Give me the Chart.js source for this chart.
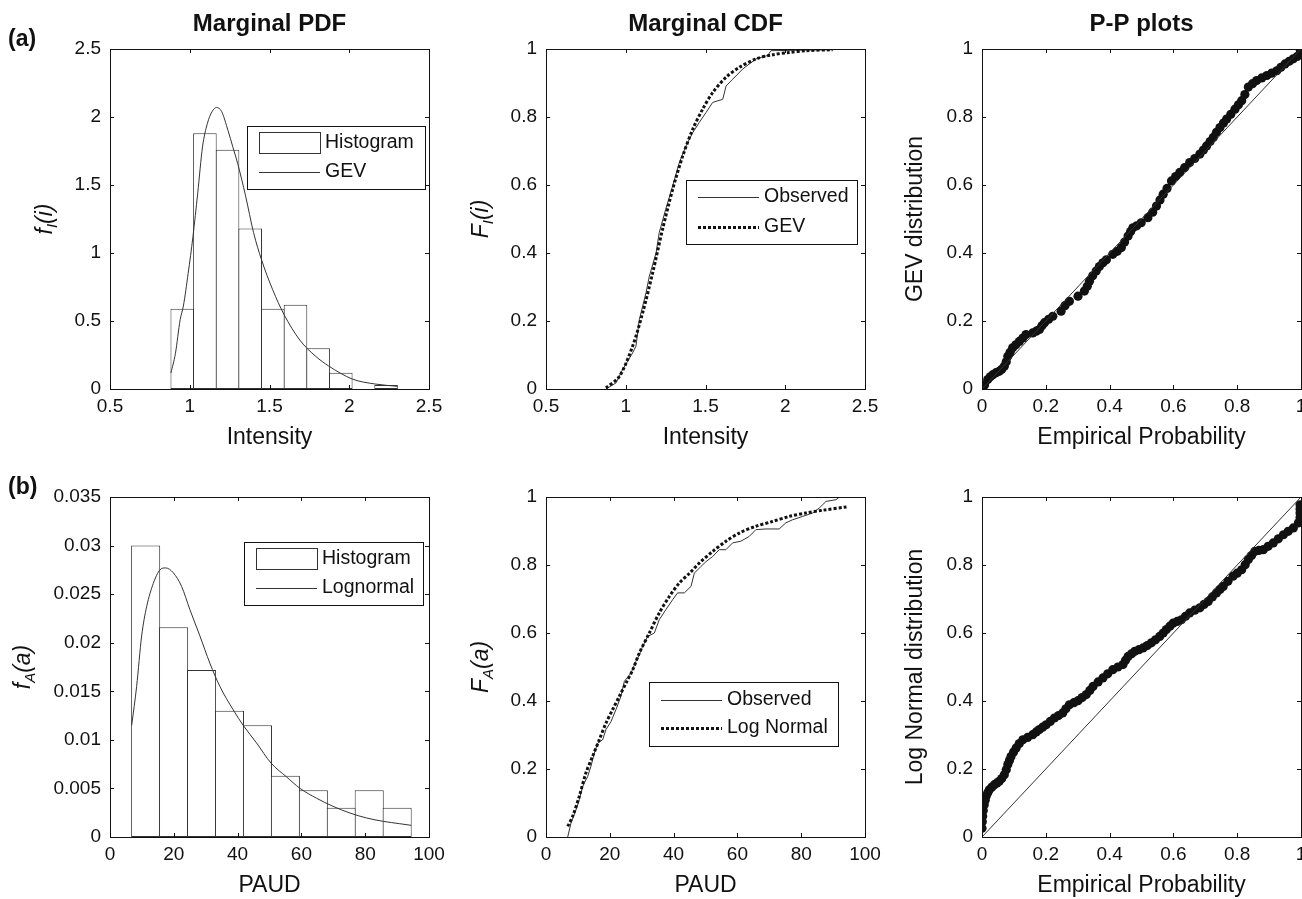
<!DOCTYPE html>
<html>
<head>
<meta charset="utf-8">
<script src="https://cdn.jsdelivr.net/npm/chart.js@4.4.1/dist/chart.umd.min.js"></script>
<style>
  html, body { margin: 0; padding: 0; background: #fff; width: 1302px; height: 899px; overflow: hidden; }
  body { position: relative; }
  canvas { position: absolute; }
</style>
</head>
<body>
<canvas id="c1" width="459" height="451" style="left:0px;top:0px"></canvas>
<canvas id="c2" width="459" height="451" style="left:436px;top:0px"></canvas>
<canvas id="c3" width="459" height="451" style="left:872px;top:0px"></canvas>
<canvas id="c4" width="459" height="451" style="left:0px;top:448px"></canvas>
<canvas id="c5" width="459" height="451" style="left:436px;top:448px"></canvas>
<canvas id="c6" width="459" height="451" style="left:872px;top:448px"></canvas>
<script>
// ---- (a) intensity ----
const intensityTicks = [0.5, 1, 1.5, 2, 2.5];
const intensityTickLabels = ['0.5', '1', '1.5', '2', '2.5'];
const pdfITicks = [0, 0.5, 1, 1.5, 2, 2.5];
const pdfITickLabels = ['0', '0.5', '1', '1.5', '2', '2.5'];
const probTicks = [0, 0.2, 0.4, 0.6, 0.8, 1];
const probTickLabels = ['0', '0.2', '0.4', '0.6', '0.8', '1'];

const histIBins = [0.953, 1.095, 1.237, 1.379, 1.521, 1.663, 1.805, 1.947, 2.089, 2.231];
const histIHeights = [0.59, 1.88, 1.76, 1.18, 0.59, 0.62, 0.30, 0.12, 0, 0.03];

const gevPdfX = [0.882, 0.91, 0.94, 0.96, 0.99, 1.02, 1.05, 1.08, 1.11, 1.14, 1.168, 1.20, 1.24, 1.27, 1.30, 1.35, 1.40, 1.45, 1.52, 1.59, 1.69, 1.79, 1.87, 2.02, 2.16, 2.30];
const gevPdfY = [0.118, 0.26, 0.51, 0.61, 0.85, 1.12, 1.44, 1.78, 1.95, 2.04, 2.07, 2.04, 1.90, 1.78, 1.66, 1.42, 1.15, 0.95, 0.73, 0.55, 0.36, 0.24, 0.17, 0.073, 0.037, 0.02];

const obsCdfIX = [0.876, 0.939, 0.98, 1.043, 1.064, 1.085, 1.127, 1.148, 1.19, 1.21, 1.25, 1.294, 1.336, 1.378, 1.42, 1.461, 1.503, 1.545, 1.608, 1.629, 1.67, 1.733, 1.817, 1.89, 1.91, 2.297];
const obsCdfIY = [0, 0.018, 0.057, 0.106, 0.126, 0.204, 0.283, 0.332, 0.40, 0.46, 0.528, 0.597, 0.666, 0.715, 0.754, 0.784, 0.813, 0.843, 0.852, 0.891, 0.911, 0.941, 0.971, 0.981, 0.995, 0.998];
const gevCdfX = [0.876, 0.96, 1.043, 1.106, 1.169, 1.231, 1.294, 1.357, 1.42, 1.482, 1.545, 1.629, 1.712, 1.817, 1.921, 2.026, 2.13, 2.297];
const gevCdfY = [0.003, 0.037, 0.126, 0.224, 0.342, 0.47, 0.587, 0.685, 0.764, 0.823, 0.872, 0.917, 0.946, 0.971, 0.983, 0.99, 0.995, 0.998];

const ppGevEmp = [0.002, 0.008, 0.018, 0.026, 0.034, 0.044, 0.054, 0.062, 0.07, 0.076, 0.081, 0.088, 0.096, 0.106, 0.117, 0.128, 0.138, 0.159, 0.17, 0.18, 0.188, 0.196, 0.209, 0.222, 0.248, 0.26, 0.274, 0.301, 0.321, 0.33, 0.337, 0.347, 0.358, 0.368, 0.379, 0.39, 0.41, 0.424, 0.437, 0.447, 0.458, 0.466, 0.473, 0.485, 0.499, 0.52, 0.535, 0.547, 0.558, 0.568, 0.58, 0.594, 0.607, 0.62, 0.635, 0.651, 0.667, 0.683, 0.694, 0.704, 0.715, 0.725, 0.735, 0.746, 0.757, 0.767, 0.78, 0.793, 0.804, 0.814, 0.824, 0.835, 0.848, 0.861, 0.877, 0.893, 0.908, 0.924, 0.937, 0.95, 0.963, 0.976, 0.988, 0.997, 0.997];
const ppGevFit = [0.003, 0.012, 0.028, 0.036, 0.042, 0.048, 0.052, 0.058, 0.067, 0.08, 0.096, 0.108, 0.121, 0.13, 0.14, 0.15, 0.16, 0.165, 0.17, 0.175, 0.186, 0.195, 0.205, 0.214, 0.229, 0.245, 0.258, 0.273, 0.288, 0.302, 0.317, 0.333, 0.347, 0.36, 0.371, 0.38, 0.396, 0.405, 0.416, 0.432, 0.45, 0.463, 0.474, 0.48, 0.489, 0.504, 0.52, 0.538, 0.556, 0.573, 0.59, 0.612, 0.625, 0.637, 0.651, 0.666, 0.678, 0.691, 0.703, 0.715, 0.728, 0.74, 0.755, 0.769, 0.782, 0.794, 0.808, 0.823, 0.836, 0.848, 0.866, 0.888, 0.898, 0.907, 0.915, 0.922, 0.929, 0.936, 0.946, 0.956, 0.964, 0.971, 0.978, 0.986, 1.0];

// ---- (b) PAUD ----
const paudTicks = [0, 20, 40, 60, 80, 100];
const paudTickLabels = ['0', '20', '40', '60', '80', '100'];
const pdfATicks = [0, 0.005, 0.01, 0.015, 0.02, 0.025, 0.03, 0.035];
const pdfATickLabels = ['0', '0.005', '0.01', '0.015', '0.02', '0.025', '0.03', '0.035'];

const histABins = [11.18, 19.94, 28.70, 37.46, 46.22, 54.98, 63.74, 72.50, 81.26, 90.02];
const histAHeights = [0.0300, 0.0216, 0.0172, 0.0130, 0.0115, 0.0063, 0.0048, 0.0030, 0.0048, 0.0030];

const lognPdfX = [6.8, 8.35, 9.92, 11.48, 13.57, 15.66, 17.4, 19.83, 22.44, 25.05, 28.18, 31.3, 34.45, 38.6, 41.96, 45.9, 50.5, 55.3, 59.6, 64.7, 69.9, 75.2, 80.4, 85.7, 90.8, 94.4];
const lognPdfY = [0.0115, 0.0155, 0.0207, 0.0237, 0.0261, 0.0275, 0.0277, 0.0272, 0.0258, 0.0234, 0.0207, 0.0179, 0.0155, 0.0131, 0.0114, 0.0097, 0.0076, 0.0062, 0.0050, 0.0040, 0.00316, 0.00247, 0.00196, 0.00161, 0.00137, 0.0012];

const obsCdfAX = [6.8, 7.84, 9.4, 10.45, 11.5, 13.06, 14.1, 15.15, 16.2, 17.76, 18.8, 20.4, 21.94, 23.5, 24.56, 26.65, 28.2, 29.26, 30.3, 31.87, 33.96, 35.5, 37.6, 39.7, 41.27, 43.36, 45.45, 46.5, 48.6, 50.16, 52.25, 54.3, 56.4, 58.5, 61.1, 63.7, 65.8, 69, 73.1, 75.2, 77.3, 80.5, 83.6, 85.7, 87.8, 90.9, 92, 94.3];
const obsCdfAY = [0, 0.041, 0.08, 0.11, 0.149, 0.178, 0.208, 0.247, 0.276, 0.286, 0.316, 0.34, 0.375, 0.414, 0.458, 0.482, 0.517, 0.536, 0.561, 0.59, 0.6, 0.639, 0.669, 0.698, 0.718, 0.718, 0.737, 0.776, 0.796, 0.81, 0.825, 0.845, 0.845, 0.865, 0.87, 0.884, 0.904, 0.906, 0.906, 0.924, 0.933, 0.943, 0.953, 0.968, 0.987, 0.992, 1.0, 1.0];
const lognCdfX = [6.8, 8.36, 10.45, 12.5, 14.6, 16.7, 18.8, 20.9, 23, 25.1, 27.2, 29.26, 32.4, 35.5, 38.7, 41.8, 45, 48.1, 52.25, 56.4, 60.6, 65.8, 71, 76.3, 81.5, 86.7, 94.3];
const lognCdfY = [0.031, 0.061, 0.12, 0.188, 0.237, 0.286, 0.335, 0.375, 0.414, 0.453, 0.492, 0.541, 0.6, 0.659, 0.708, 0.747, 0.776, 0.806, 0.84, 0.87, 0.894, 0.914, 0.928, 0.943, 0.953, 0.961, 0.971];

const ppLnEmp = [0.0, 0.001, 0.002, 0.004, 0.007, 0.01, 0.013, 0.018, 0.023, 0.031, 0.039, 0.047, 0.054, 0.062, 0.07, 0.076, 0.081, 0.086, 0.091, 0.099, 0.107, 0.117, 0.128, 0.143, 0.159, 0.17, 0.18, 0.19, 0.201, 0.214, 0.227, 0.24, 0.253, 0.263, 0.274, 0.288, 0.301, 0.314, 0.327, 0.338, 0.348, 0.364, 0.379, 0.394, 0.41, 0.426, 0.442, 0.45, 0.458, 0.469, 0.479, 0.492, 0.505, 0.518, 0.531, 0.544, 0.557, 0.568, 0.578, 0.589, 0.599, 0.612, 0.625, 0.638, 0.651, 0.667, 0.683, 0.696, 0.709, 0.722, 0.735, 0.746, 0.756, 0.771, 0.787, 0.8, 0.814, 0.825, 0.835, 0.845, 0.855, 0.868, 0.882, 0.897, 0.913, 0.929, 0.945, 0.96, 0.976, 0.992, 0.997, 0.997, 0.997, 0.997];
const ppLnFit = [0.026, 0.045, 0.061, 0.078, 0.095, 0.108, 0.12, 0.13, 0.139, 0.147, 0.154, 0.159, 0.164, 0.172, 0.183, 0.198, 0.213, 0.225, 0.237, 0.25, 0.262, 0.275, 0.286, 0.293, 0.301, 0.309, 0.316, 0.323, 0.33, 0.34, 0.35, 0.357, 0.365, 0.377, 0.389, 0.395, 0.401, 0.41, 0.419, 0.431, 0.443, 0.456, 0.468, 0.48, 0.492, 0.5, 0.507, 0.52, 0.531, 0.539, 0.546, 0.551, 0.556, 0.563, 0.571, 0.58, 0.59, 0.6, 0.61, 0.62, 0.629, 0.634, 0.639, 0.649, 0.659, 0.667, 0.674, 0.684, 0.693, 0.706, 0.718, 0.728, 0.737, 0.752, 0.767, 0.776, 0.786, 0.801, 0.816, 0.828, 0.84, 0.843, 0.845, 0.855, 0.865, 0.877, 0.889, 0.899, 0.909, 0.924, 0.94, 0.953, 0.965, 0.977];

const diagX = [0, 1];
const diagY = [0, 1];

const FONT = '"Liberation Sans", Arial, Helvetica, sans-serif';
const INK = '#111';
Chart.defaults.font.family = FONT;
Chart.defaults.color = INK;

const pts = (xs, ys) => xs.map((x, i) => ({ x: x, y: ys[i] }));

// box with inward ticks on all four sides, like MATLAB axes
const matlabFrame = {
  id: 'matlabFrame',
  afterDatasetsDraw(chart) {
    const { ctx, chartArea: a, scales } = chart;
    ctx.save();
    ctx.strokeStyle = INK;
    ctx.lineWidth = 1;
    ctx.beginPath();
    scales.x.ticks.forEach(t => {
      const px = Math.round(scales.x.getPixelForValue(t.value)) + 0.5;
      ctx.moveTo(px, a.bottom); ctx.lineTo(px, a.bottom - 4);
      ctx.moveTo(px, a.top); ctx.lineTo(px, a.top + 4);
    });
    scales.y.ticks.forEach(t => {
      const py = Math.round(scales.y.getPixelForValue(t.value)) + 0.5;
      ctx.moveTo(a.left, py); ctx.lineTo(a.left + 4, py);
      ctx.moveTo(a.right, py); ctx.lineTo(a.right - 4, py);
    });
    ctx.stroke();
    ctx.strokeRect(a.left + 0.5, a.top + 0.5, a.right - a.left, a.bottom - a.top);
    ctx.restore();
  }
};

function boxLegend(box, rowY) {
  return {
    id: 'boxLegend',
    afterDraw(chart) {
      const { ctx, chartArea } = chart;
      const x = chartArea.left + box[0], y = chartArea.top + box[1];
      ctx.save();
      ctx.fillStyle = '#fff';
      ctx.fillRect(x, y, box[2], box[3]);
      ctx.strokeStyle = INK;
      ctx.lineWidth = 1;
      ctx.strokeRect(x + 0.5, y + 0.5, box[2], box[3]);
      ctx.font = '19.5px ' + FONT;
      ctx.textBaseline = 'middle';
      chart.data.datasets.forEach((ds, i) => {
        const ry = y + rowY[i];
        if (ds.type === 'bar') {
          ctx.strokeStyle = '#333';
          ctx.strokeRect(x + 12.5, ry - 10.5, 61, 21);
        } else {
          ctx.strokeStyle = ds.borderColor;
          ctx.lineWidth = ds.borderWidth;
          ctx.setLineDash(ds.borderDash || []);
          ctx.beginPath();
          ctx.moveTo(x + 12, Math.round(ry) + 0.5);
          ctx.lineTo(x + 73, Math.round(ry) + 0.5);
          ctx.stroke();
          ctx.setLineDash([]);
          ctx.lineWidth = 1;
        }
        ctx.fillStyle = INK;
        ctx.fillText(ds.label, x + 78, ry);
      });
      ctx.restore();
    }
  };
}

// italic y label with subscript, e.g. f_I(i)
function richYLabel(parts, cx) {
  return {
    id: 'richYLabel',
    afterDraw(chart) {
      const { ctx, chartArea } = chart;
      const cy = (chartArea.top + chartArea.bottom) / 2;
      const fonts = parts.map(p => p[1] ? 'italic 15px ' + FONT : 'italic 23px ' + FONT);
      ctx.save();
      let total = 0;
      const widths = parts.map((p, i) => { ctx.font = fonts[i]; const w = ctx.measureText(p[0]).width; total += w; return w; });
      ctx.translate(cx, cy);
      ctx.rotate(-Math.PI / 2);
      ctx.fillStyle = INK;
      ctx.textBaseline = 'alphabetic';
      let x = -total / 2;
      parts.forEach((p, i) => {
        ctx.font = fonts[i];
        ctx.fillText(p[0], x, p[1] ? 13 : 8);
        x += widths[i];
      });
      ctx.restore();
    }
  };
}

function panelTag(text) {
  return {
    id: 'panelTag',
    afterDraw(chart) {
      const ctx = chart.ctx;
      ctx.save();
      ctx.font = 'bold 23px ' + FONT;
      ctx.fillStyle = INK;
      ctx.textBaseline = 'middle';
      ctx.fillText(text, 8, 40);
      ctx.restore();
    }
  };
}

function axisOptions(c) {
  return {
    responsive: false,
    animation: false,
    layout: { padding: { top: c.title ? 0 : 49, right: 30, left: 0, bottom: 0 } },
    plugins: {
      legend: { display: false },
      tooltip: { enabled: false },
      title: c.title ? {
        display: true, text: c.title, fullSize: false, color: INK,
        font: { size: 24, weight: 'bold' }, padding: { top: 10, bottom: 10.2 }
      } : { display: false }
    },
    scales: {
      x: {
        type: 'linear', min: c.xTicks[0], max: c.xTicks[c.xTicks.length - 1], offset: false,
        grid: { display: false, drawTicks: false },
        border: { display: false },
        afterBuildTicks: s => { s.ticks = c.xTicks.map(v => ({ value: v })); },
        afterFit: s => { s.height = 62; },
        ticks: { padding: 6, autoSkip: false, maxRotation: 0, font: { size: 19 }, callback: (v, i) => c.xLabels[i] },
        title: { display: true, text: c.xTitle, font: { size: 23 }, padding: 0 }
      },
      y: {
        type: 'linear', min: c.yTicks[0], max: c.yTicks[c.yTicks.length - 1],
        grid: { display: false, drawTicks: false },
        border: { display: false },
        afterBuildTicks: s => { s.ticks = c.yTicks.map(v => ({ value: v })); },
        afterFit: s => { s.width = 110; },
        ticks: { padding: 9, autoSkip: false, font: { size: 19 }, callback: (v, i) => c.yLabels[i] },
        title: c.yTitle ? { display: true, text: c.yTitle, font: { size: 23 }, padding: { top: 30.2, bottom: 0 } } : { display: false }
      }
    }
  };
}

function histDataset(label, bins, heights) {
  return {
    type: 'bar', label: label, data: pts(bins, heights),
    backgroundColor: '#fff', borderColor: '#333', borderWidth: 1, borderSkipped: false,
    barPercentage: 1.04, categoryPercentage: 1, order: 2
  };
}

// style: 'smooth' fitted pdf, 'raw' empirical cdf, 'dotted' fitted cdf
function curveDataset(label, xs, ys, style) {
  const dotted = style === 'dotted';
  return {
    type: 'line', label: label, data: pts(xs, ys),
    borderColor: dotted ? '#111' : '#333',
    borderWidth: dotted ? 3 : 1,
    borderDash: dotted ? [3, 2] : [],
    pointRadius: 0, fill: false,
    cubicInterpolationMode: style === 'smooth' ? 'monotone' : 'default',
    tension: dotted ? 0.3 : 0, order: dotted ? 0 : 1
  };
}

// (a) Marginal PDF
new Chart(document.getElementById('c1'), {
  type: 'bar',
  data: { datasets: [
    histDataset('Histogram', histIBins, histIHeights),
    Object.assign(curveDataset('GEV', gevPdfX, gevPdfY, 'smooth'), { order: 0 })
  ] },
  options: axisOptions({ title: 'Marginal PDF', xTicks: intensityTicks, xLabels: intensityTickLabels, yTicks: pdfITicks, yLabels: pdfITickLabels, xTitle: 'Intensity' }),
  plugins: [matlabFrame, boxLegend([137, 77, 178, 63], [17, 46]), richYLabel([['f', false], ['I', true], ['(i)', false]], 44), panelTag('(a)')]
});

// (a) Marginal CDF
new Chart(document.getElementById('c2'), {
  type: 'line',
  data: { datasets: [
    curveDataset('Observed', obsCdfIX, obsCdfIY, 'raw'),
    curveDataset('GEV', gevCdfX, gevCdfY, 'dotted')
  ] },
  options: axisOptions({ title: 'Marginal CDF', xTicks: intensityTicks, xLabels: intensityTickLabels, yTicks: probTicks, yLabels: probTickLabels, xTitle: 'Intensity' }),
  plugins: [matlabFrame, boxLegend([140, 131, 171, 64], [17, 47]), richYLabel([['F', false], ['I', true], ['(i)', false]], 44)]
});

// (a) P-P plot
new Chart(document.getElementById('c3'), {
  type: 'scatter',
  data: { datasets: [
    { type: 'line', label: 'Reference', data: pts(diagX, diagY), borderColor: '#333', borderWidth: 1, pointRadius: 0 },
    { label: 'GEV', data: pts(ppGevEmp, ppGevFit), backgroundColor: '#111', borderWidth: 0, pointRadius: 4.6 }
  ] },
  options: axisOptions({ title: 'P-P plots', xTicks: probTicks, xLabels: probTickLabels, yTicks: probTicks, yLabels: probTickLabels, xTitle: 'Empirical Probability', yTitle: 'GEV distribution' }),
  plugins: [matlabFrame]
});

// (b) Marginal PDF
new Chart(document.getElementById('c4'), {
  type: 'bar',
  data: { datasets: [
    histDataset('Histogram', histABins, histAHeights),
    Object.assign(curveDataset('Lognormal', lognPdfX, lognPdfY, 'smooth'), { order: 0 })
  ] },
  options: axisOptions({ xTicks: paudTicks, xLabels: paudTickLabels, yTicks: pdfATicks, yLabels: pdfATickLabels, xTitle: 'PAUD' }),
  plugins: [matlabFrame, boxLegend([134, 45, 179, 63], [17, 46]), richYLabel([['f', false], ['A', true], ['(a)', false]], 22), panelTag('(b)')]
});

// (b) Marginal CDF
new Chart(document.getElementById('c5'), {
  type: 'line',
  data: { datasets: [
    curveDataset('Observed', obsCdfAX, obsCdfAY, 'raw'),
    curveDataset('Log Normal', lognCdfX, lognCdfY, 'dotted')
  ] },
  options: axisOptions({ xTicks: paudTicks, xLabels: paudTickLabels, yTicks: probTicks, yLabels: probTickLabels, xTitle: 'PAUD' }),
  plugins: [matlabFrame, boxLegend([103, 185, 189, 64], [18, 46]), richYLabel([['F', false], ['A', true], ['(a)', false]], 44)]
});

// (b) P-P plot
new Chart(document.getElementById('c6'), {
  type: 'scatter',
  data: { datasets: [
    { type: 'line', label: 'Reference', data: pts(diagX, diagY), borderColor: '#333', borderWidth: 1, pointRadius: 0 },
    { label: 'Log Normal', data: pts(ppLnEmp, ppLnFit), backgroundColor: '#111', borderWidth: 0, pointRadius: 4.6 }
  ] },
  options: axisOptions({ xTicks: probTicks, xLabels: probTickLabels, yTicks: probTicks, yLabels: probTickLabels, xTitle: 'Empirical Probability', yTitle: 'Log Normal distribution' }),
  plugins: [matlabFrame]
});
</script>
</body>
</html>
